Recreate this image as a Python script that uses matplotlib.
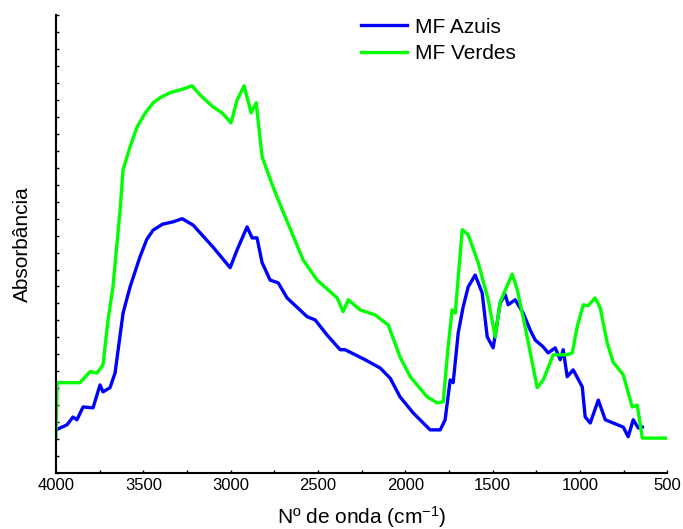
import matplotlib
matplotlib.use("Agg")
import matplotlib.pyplot as plt
from matplotlib.ticker import MultipleLocator

plt.rcParams['font.family'] = ['Liberation Sans', 'DejaVu Sans']
plt.rcParams['mathtext.default'] = 'regular'

# wavenumber (cm-1) / absorbance (arbitrary units)
wn_verdes = [4000, 3994, 3863, 3805, 3765, 3731, 3702, 3674, 3633, 3616,
             3576, 3536, 3490, 3444, 3400, 3347, 3273, 3221, 3175, 3101, 3049, 2998,
             2963, 2923, 2883, 2854, 2820, 2757, 2728, 2585, 2505, 2390,
             2356, 2327, 2259, 2173, 2098, 2030, 1972, 1875, 1818, 1783,
             1755, 1732, 1714, 1674, 1640, 1583, 1525, 1485, 1457, 1388,
             1359, 1314, 1245, 1210, 1153, 1073, 1044, 1016, 981, 953,
             913, 884, 844, 810, 752, 701, 672, 643, 500]
abs_verdes = [0.079, 0.197, 0.197, 0.221, 0.218, 0.236, 0.334, 0.406, 0.574, 0.662,
              0.712, 0.755, 0.785, 0.808, 0.820, 0.830, 0.838, 0.845, 0.825, 0.799, 0.786, 0.764,
              0.814, 0.845, 0.786, 0.808, 0.690, 0.624, 0.596, 0.465, 0.421, 0.382,
              0.352, 0.378, 0.356, 0.345, 0.323, 0.253, 0.210, 0.166, 0.153, 0.155,
              0.275, 0.356, 0.349, 0.531, 0.520, 0.459, 0.378, 0.297, 0.373, 0.434,
              0.400, 0.319, 0.186, 0.203, 0.258, 0.258, 0.262, 0.319, 0.367, 0.365,
              0.382, 0.360, 0.284, 0.242, 0.214, 0.144, 0.148, 0.076, 0.076]

wn_azuis = [4000, 3937, 3903, 3880, 3845, 3788, 3748, 3731, 3691, 3662,
            3616, 3576, 3519, 3480, 3444, 3390, 3330, 3278, 3215, 3101, 3003, 2963,
            2906, 2877, 2849, 2820, 2774, 2728, 2677, 2562, 2516, 2448,
            2373, 2345, 2230, 2144, 2087, 2030, 1955, 1858, 1800, 1772,
            1743, 1726, 1697, 1669, 1640, 1600, 1560, 1531, 1497, 1474,
            1457, 1428, 1411, 1371, 1325, 1285, 1256, 1210, 1182, 1142,
            1113, 1096, 1073, 1039, 987, 970, 941, 895, 855, 810,
            752, 724, 695, 666, 643]
abs_azuis = [0.094, 0.105, 0.122, 0.116, 0.144, 0.142, 0.192, 0.177, 0.186, 0.218,
             0.349, 0.406, 0.472, 0.510, 0.530, 0.543, 0.548, 0.555, 0.541, 0.493, 0.448, 0.487,
             0.537, 0.513, 0.513, 0.459, 0.421, 0.415, 0.382, 0.341, 0.334, 0.301,
             0.269, 0.269, 0.247, 0.229, 0.207, 0.166, 0.131, 0.094, 0.094, 0.116,
             0.203, 0.197, 0.306, 0.362, 0.406, 0.432, 0.393, 0.297, 0.273, 0.328,
             0.371, 0.389, 0.367, 0.378, 0.349, 0.312, 0.290, 0.275, 0.262, 0.273,
             0.247, 0.269, 0.210, 0.225, 0.188, 0.122, 0.109, 0.159, 0.116, 0.109,
             0.100, 0.079, 0.116, 0.098, 0.100]

fig = plt.figure(figsize=(6.83, 5.29), dpi=100)
ax = fig.add_axes([0.082, 0.106, 0.895, 0.866])

ax.plot(wn_azuis, abs_azuis, color='#0000ff', lw=2.4, label='MF Azuis')
ax.plot(wn_verdes, abs_verdes, color='#00ff00', lw=2.4, label='MF Verdes')

ax.set_xlim(4000, 500)
ax.set_ylim(0, 1)
ax.xaxis.set_major_locator(MultipleLocator(500))
ax.xaxis.set_minor_locator(MultipleLocator(250))
ax.yaxis.set_major_locator(MultipleLocator(0.037))
ax.set_yticklabels([])
ax.tick_params(axis='both', which='both', direction='in', length=2, width=1)
ax.tick_params(axis='x', labelsize=12, pad=4)

for side in ['top', 'right']:
    ax.spines[side].set_visible(False)
ax.spines['left'].set_linewidth(1.5)
ax.spines['bottom'].set_linewidth(1.5)

ax.set_xlabel('Nº de onda (cm$^{-1}$)', fontsize=15, labelpad=8)
ax.set_ylabel('Absorbância', fontsize=15, labelpad=14)

ax.legend(loc='upper left', bbox_to_anchor=(0.468, 1.035), frameon=False,
          fontsize=15, handlelength=2.2, handletextpad=0.4, labelspacing=0.35)

fig.savefig('out.png', dpi=100)
